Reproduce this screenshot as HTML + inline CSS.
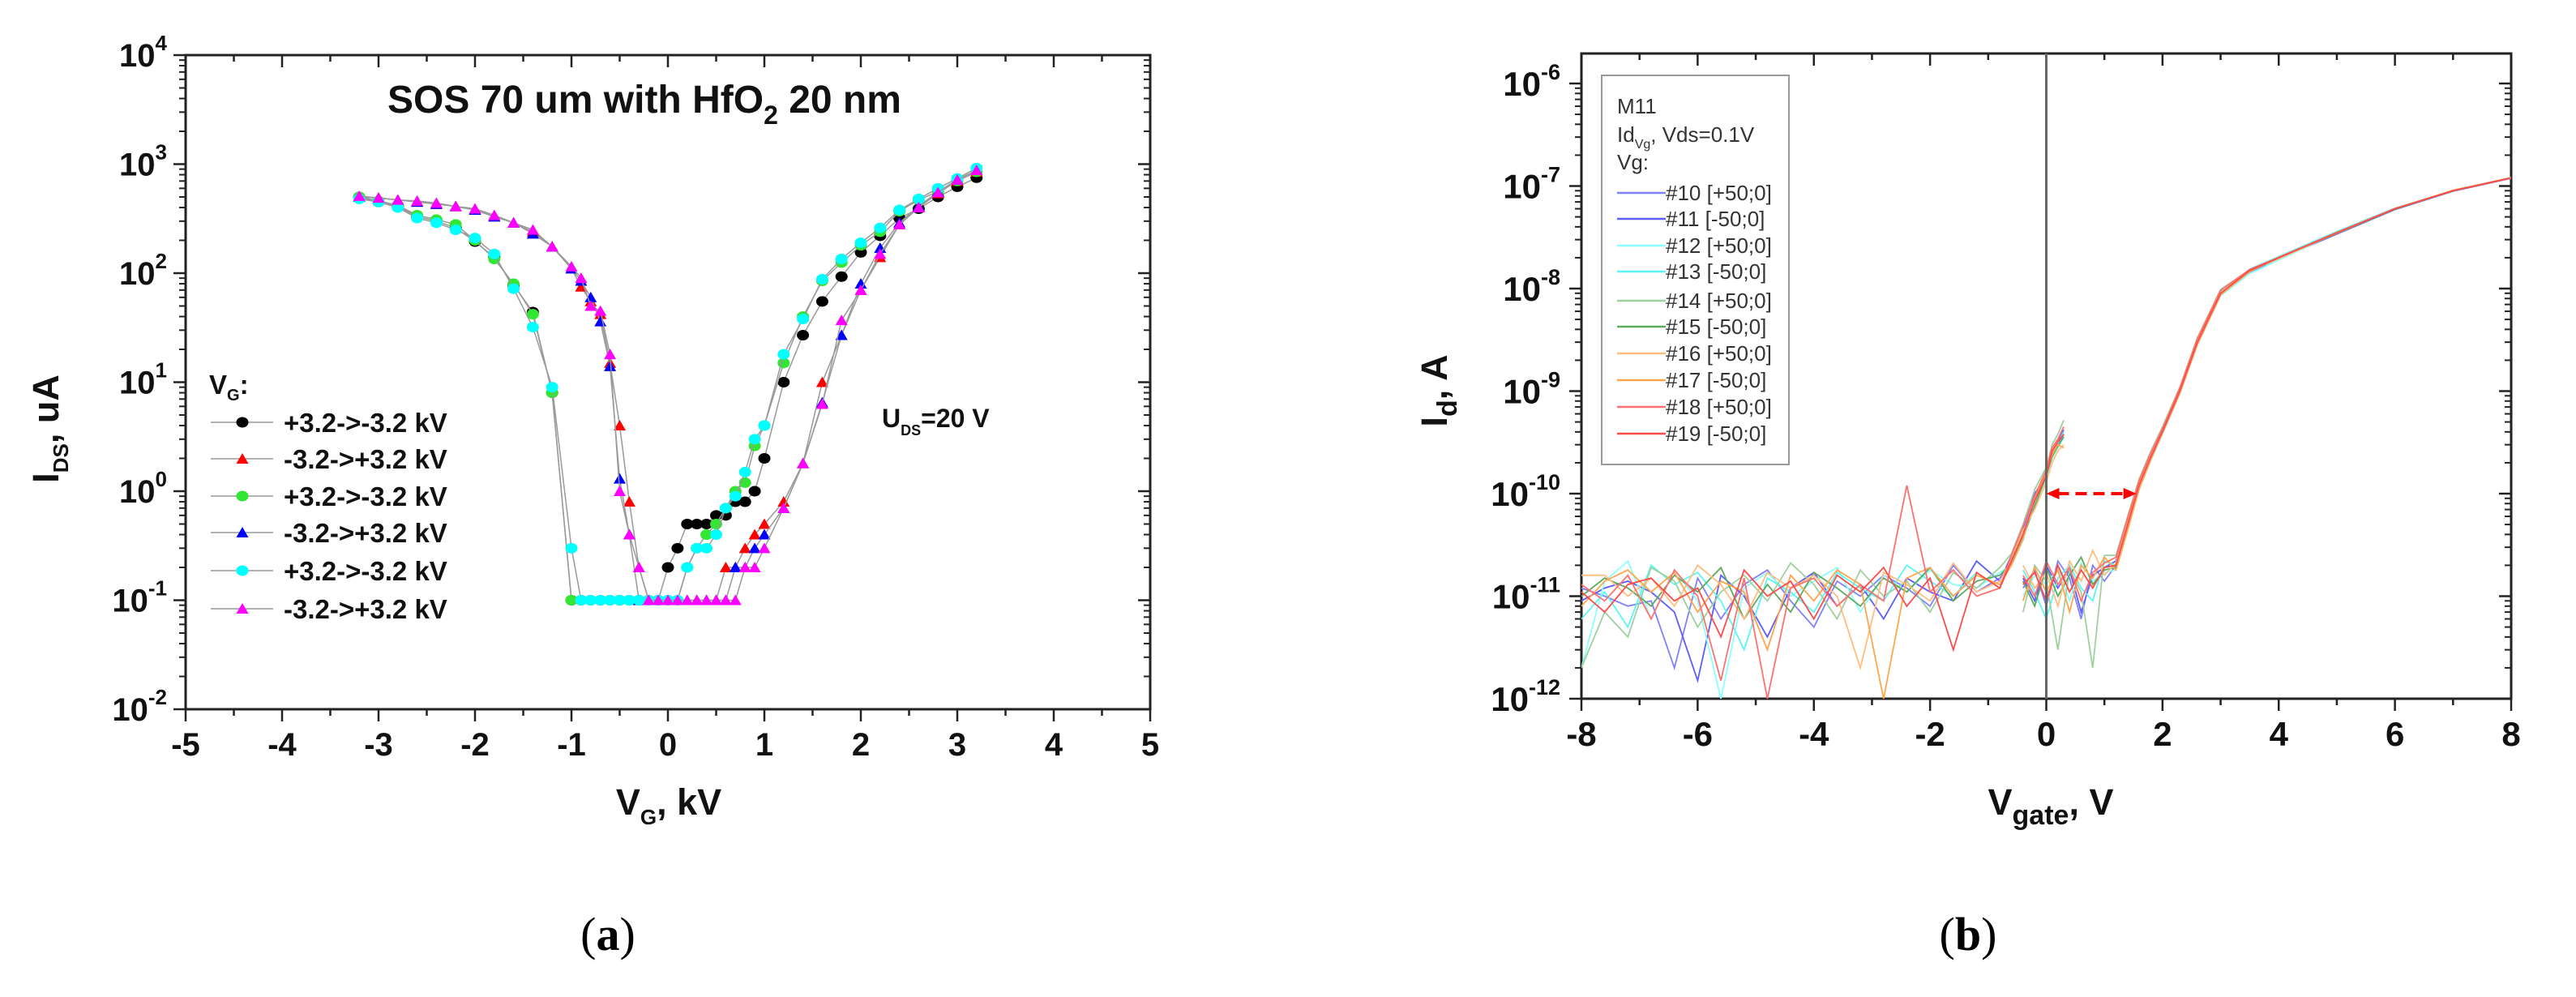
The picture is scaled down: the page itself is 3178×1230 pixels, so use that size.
<!DOCTYPE html>
<html><head><meta charset="utf-8"><style>
html,body{margin:0;padding:0;background:#fff;}
svg{display:block;font-family:"Liberation Sans",Arial,sans-serif;}
</style></head><body>
<svg id="fig" width="3178" height="1230" viewBox="0 0 3178 1230" xmlns="http://www.w3.org/2000/svg">
<rect x="0" y="0" width="3178" height="1230" fill="#fff"/>
<g id="pa"></g>
<g id="pb"></g>
<text x="750" y="1172" font-family="Liberation Serif, serif" font-size="58" text-anchor="middle">(<tspan font-weight="bold">a</tspan>)</text>
<text x="2428" y="1172" font-family="Liberation Serif, serif" font-size="58" text-anchor="middle">(<tspan font-weight="bold">b</tspan>)</text>
</svg>
<script>
// ---------- Chart A data ----------
const aX = [-3.2,-3.0,-2.8,-2.6,-2.4,-2.2,-2.0,-1.8,-1.6,-1.4,-1.2,-1.0,-0.9,-0.8,-0.7,-0.6,-0.5,-0.4,-0.3,-0.2,-0.1,0,0.1,0.2,0.3,0.4,0.5,0.6,0.7,0.8,0.9,1.0,1.2,1.4,1.6,1.8,2.0,2.2,2.4,2.6,2.8,3.0,3.2];
const aBlack = [500,450,410,330,300,260,195,140,78,44,8,0.1,0.1,0.1,0.1,0.1,0.1,0.1,0.1,0.1,0.1,0.2,0.3,0.5,0.5,0.5,0.6,0.6,0.8,0.8,1.0,2.0,10,27,55,93,155,220,320,390,500,620,750];
const aGreen = [500,460,420,340,310,280,200,135,80,42,8,0.1,0.1,0.1,0.1,0.1,0.1,0.1,0.1,0.1,0.1,0.1,0.1,0.2,0.3,0.4,0.5,0.7,1.0,1.2,2.6,4.0,15,40,85,125,180,240,370,470,560,700,850];
const aCyan = [480,450,400,320,290,250,210,150,72,32,9,0.3,0.1,0.1,0.1,0.1,0.1,0.1,0.1,0.1,0.1,0.1,0.1,0.2,0.3,0.3,0.4,0.7,0.9,1.5,3.0,4.0,18,38,88,135,190,260,380,480,600,740,920];
const aRed = [500,490,470,450,430,410,380,330,290,240,175,110,75,55,42,15,4,0.8,0.2,0.1,0.1,0.1,0.1,0.1,0.1,0.1,0.1,0.2,0.2,0.3,0.4,0.5,0.8,1.8,10,27,70,140,280,400,540,700,850];
const aBlue = [500,490,470,450,430,410,380,330,290,230,175,110,85,60,36,14,1.3,0.4,0.1,0.1,0.1,0.1,0.1,0.1,0.1,0.1,0.1,0.1,0.2,0.2,0.3,0.4,0.7,1.8,6.5,27,80,170,290,410,560,720,880];
const aMag = [510,490,470,460,440,410,390,340,290,250,175,115,90,50,45,18,1.0,0.4,0.2,0.1,0.1,0.1,0.1,0.1,0.1,0.1,0.1,0.1,0.1,0.2,0.2,0.3,0.7,1.8,6.3,37,70,150,280,400,550,720,880];
const aXTicks = [-5,-4,-3,-2,-1,0,1,2,3,4,5];
const aYExp = [-2,-1,0,1,2,3,4];
const aLegend = ["+3.2->-3.2 kV","-3.2->+3.2 kV","+3.2->-3.2 kV","-3.2->+3.2 kV","+3.2->-3.2 kV","-3.2->+3.2 kV"];

// ---------- Chart B data (currents in pA) ----------
const bNoiseX = [-8,-7.6,-7.2,-6.8,-6.4,-6,-5.6,-5.2,-4.8,-4.4,-4,-3.6,-3.2,-2.8,-2.4,-2,-1.6,-1.2,-0.8];
const bHystX = [-0.6,-0.4,-0.2,0,0.1,0.2,0.3];
const bFloorX = [-0.4,-0.2,0,0.2,0.4,0.6,0.8,1.0];
const bRiseX = [1.2,1.4,1.6,1.8,2.0,2.3,2.6,3.0,3.5,4,5,6,7,8];
const bNames = ["#10 [+50;0]","#11 [-50;0]","#12 [+50;0]","#13 [-50;0]","#14 [+50;0]","#15 [-50;0]","#16 [+50;0]","#17 [-50;0]","#18 [+50;0]","#19 [-50;0]"];
const bNoise = [
 [12,10,8,9,2,15,6,13,18,9,5,14,10,16,12,8,20,11,15],
 [9,12,14,11,7,1.5,16,10,4,12,17,8,13,6,15,11,9,22,14],
 [2,14,22,6,18,9,1,12,17,10,14,19,7,16,11,18,13,12,17],
 [6,11,5,20,13,17,9,3,15,11,7,17,12,9,20,14,10,17,12],
 [2,7,4,19,14,5,11,16,9,21,13,6,18,10,14,7,17,12,19],
 [10,15,12,8,16,11,19,6,13,7,17,12,8,15,11,19,9,14,16],
 [16,16,10,15,8,20,13,6,17,12,16,10,2,17,13,9,21,11,14],
 [8,14,18,11,17,7,14,11,3,16,9,18,13,1,15,19,10,16,13],
 [13,9,16,6,18,10,1.5,15,1,12,15,8,13,9,120,11,18,10,12],
 [11,7,13,15,9,12,4,18,10,14,6,16,11,19,8,15,3,17,12]];
const bHyst = [
 [22,40,90,160,260,300,380],[25,45,100,150,240,320,420],[20,35,80,140,220,280,350],[24,42,85,170,250,310,400],
 [26,50,110,180,300,380,520],[21,38,75,150,230,290,360],[23,44,70,130,200,260,300],[20,36,90,160,240,300,280],
 [25,48,95,170,280,340,450],[22,40,85,150,260,320,380]];
const bFloor = [
 [12,18,8,22,15,6,20,14],[15,9,20,12,18,7,16,19],[10,16,13,19,9,21,14,17],[18,11,6,15,20,12,9,22],
 [7,20,14,3,18,11,2,25],[14,8,19,10,16,24,13,18],[20,12,17,8,22,14,28,16],[9,19,11,18,7,20,15,24],
 [16,10,22,13,19,9,17,21],[13,17,9,20,11,18,12,19]];
const bRise = [
 [20,55,130,240,420,1050,3200,9500,15000,20000,35000,60000,90000,120000],
 [22,50,120,220,400,1000,3000,9000,14500,19500,34000,59000,89000,119000],
 [18,45,110,210,380,950,2800,8500,14000,19000,35000,60000,91000,121000],
 [20,48,115,230,410,980,3100,9200,15500,20500,36000,61000,90000,120000],
 [25,60,140,260,450,1100,3300,9800,15200,20000,35500,60000,90500,121000],
 [19,47,118,225,400,1000,2900,8800,14800,19800,34500,59500,89500,120000],
 [21,52,125,235,415,1020,3050,9100,15000,19500,35000,60500,90000,119500],
 [18,44,112,215,390,960,2850,8700,14600,20200,34800,60200,91000,120500],
 [24,58,135,250,430,1080,3250,9600,15300,20100,35200,60100,90200,120000],
 [20,50,122,228,405,1010,3000,9000,15000,20000,35000,60000,90000,120000]];
const bColors = ["#8080ff","#5c5cff","#8affff","#5cf5f5","#9fd09f","#5eaa5e","#ffbe80","#ffa64d","#ff7070","#ff4a4a"];
const bXTicks = [-8,-6,-4,-2,0,2,4,6,8];
const bYExp = [-12,-11,-10,-9,-8,-7,-6];
const bArrowY = 100; // pA
const bArrowX = [0, 1.55];

const NS = "http://www.w3.org/2000/svg";
function mk(parent, tag, attrs){const e=document.createElementNS(NS,tag);for(const k in attrs)e.setAttribute(k,attrs[k]);parent.appendChild(e);return e;}

// ===== Chart A =====
const A = {l:229,r:1419,t:68,b:875};
const xa = v => A.l + (v+5)/10*(A.r-A.l);
const ya = v => A.t + (4-Math.log10(v))/6*(A.b-A.t);
const ga = document.getElementById('pa');
(function(){
  const frame = mk(ga,'rect',{x:A.l,y:A.t,width:A.r-A.l,height:A.b-A.t,fill:'none',stroke:'#222','stroke-width':3});
  
  
  for(let v=-5; v<=5.001; v+=0.5){
    const maj = Math.abs(v-Math.round(v))<1e-6; const L = maj?15:8; const x=xa(v);
    mk(ga,'line',{x1:x,y1:A.b,x2:x,y2:A.b+L,stroke:'#222','stroke-width':2.5});
    mk(ga,'line',{x1:x,y1:A.t,x2:x,y2:A.t+L,stroke:'#222','stroke-width':2.5});
  }
  aXTicks.forEach(v=>{
    const t = mk(ga,'text',{x:xa(v),y:932,'font-size':40,'font-weight':'bold','text-anchor':'middle',fill:'#111'});
    t.textContent = String(v);
    
    
  });
  aYExp.forEach((e,i)=>{
    const y = ya(Math.pow(10,e));
    mk(ga,'line',{x1:A.l-15,y1:y,x2:A.l,y2:y,stroke:'#222','stroke-width':2.5});
    mk(ga,'line',{x1:A.r-15,y1:y,x2:A.r,y2:y,stroke:'#222','stroke-width':2.5});
    if(i<aYExp.length-1){ for(let m=2;m<=9;m++){ const ym=ya(m*Math.pow(10,e));
      mk(ga,'line',{x1:A.l-8,y1:ym,x2:A.l,y2:ym,stroke:'#222','stroke-width':2});
      mk(ga,'line',{x1:A.r-8,y1:ym,x2:A.r,y2:ym,stroke:'#222','stroke-width':2}); } }
    const t = mk(ga,'text',{x:206,y:y+14,'font-size':40,'font-weight':'bold','text-anchor':'end',fill:'#111'});
    t.innerHTML = '10<tspan font-size="26" dy="-20">'+e+'</tspan>';
    
    
  });
  const series = [
    {y:aBlack,c:'#000',m:'c'},{y:aRed,c:'#ff0000',m:'t'},{y:aGreen,c:'#33e633',m:'c'},
    {y:aBlue,c:'#0000ff',m:'t'},{y:aCyan,c:'#00ffff',m:'c'},{y:aMag,c:'#ff00ff',m:'t'}];
  series.forEach((s,si)=>{
    const g = mk(ga,'g',{});
    
    
    const d = aX.map((x,i)=>(i?'L':'M')+xa(x).toFixed(1)+' '+ya(s.y[i]).toFixed(1)).join(' ');
    mk(g,'path',{d:d,fill:'none',stroke:'#999','stroke-width':1.5});
    aX.forEach((x,i)=>{
      const px=xa(x), py=ya(s.y[i]);
      if(s.m==='c') mk(g,'ellipse',{cx:px,cy:py,rx:7.5,ry:6.5,fill:s.c});
      else mk(g,'polygon',{points:`${px},${py-7} ${px-7.5},${py+6} ${px+7.5},${py+6}`,fill:s.c});
    });
  });
  // legend
  const lg = mk(ga,'g',{});
  
  
  const vt = mk(lg,'text',{x:258,y:486,'font-size':33,'font-weight':'bold',fill:'#111'});
  vt.innerHTML='V<tspan font-size="20" dy="8">G</tspan><tspan dy="-8">:</tspan>';
  const ly=[521,566,612,657,704,751];
  series.forEach((s,i)=>{
    const e = mk(lg,'g',{});
    
    
    mk(e,'line',{x1:260,y1:ly[i],x2:337,y2:ly[i],stroke:'#999','stroke-width':1.5});
    const px=299, py=ly[i];
    if(s.m==='c') mk(e,'ellipse',{cx:px,cy:py,rx:7.5,ry:6.5,fill:s.c});
    else mk(e,'polygon',{points:`${px},${py-7} ${px-7.5},${py+6} ${px+7.5},${py+6}`,fill:s.c});
    const t = mk(e,'text',{x:350,y:py+12,'font-size':33,'font-weight':'bold',fill:'#111'});
    t.textContent = aLegend[i];
  });
  const title = mk(ga,'text',{x:478,y:139,'font-size':48,'font-weight':'bold',fill:'#111'});
  title.innerHTML='SOS 70 um with HfO<tspan font-size="32" dy="14">2</tspan><tspan dy="-14"> 20 nm</tspan>';
  
  
  const uds = mk(ga,'text',{x:1088,y:527,'font-size':32,'font-weight':'bold',fill:'#111'});
  uds.innerHTML='U<tspan font-size="18" dy="10">DS</tspan><tspan dy="-10">=20 V</tspan>';
  
  
  const xt = mk(ga,'text',{x:825,y:1005,'font-size':45,'font-weight':'bold','text-anchor':'middle',fill:'#111'});
  xt.innerHTML='V<tspan font-size="26" dy="12">G</tspan><tspan dy="-12">, kV</tspan>';
  
  
  const yt = mk(ga,'text',{x:0,y:0,'font-size':45,'font-weight':'bold','text-anchor':'middle',fill:'#111',transform:'translate(72,529) rotate(-90)'});
  yt.innerHTML='I<tspan font-size="26" dy="12">DS</tspan><tspan dy="-12">, uA</tspan>';
  
  
})();

// ===== Chart B =====
const B = {l:1951,r:3098,t:66,b:862};
const xb = v => B.l + (v+8)/16*(B.r-B.l);
const yb = pA => 103 + (-6-Math.log10(pA*1e-12))*126.5;
const gb = document.getElementById('pb');
(function(){
  const clip = mk(gb,'clipPath',{id:'clipb'});
  mk(clip,'rect',{x:B.l,y:B.t,width:B.r-B.l,height:B.b-B.t});
  const frame = mk(gb,'rect',{x:B.l,y:B.t,width:B.r-B.l,height:B.b-B.t,fill:'none',stroke:'#222','stroke-width':3});
  
  
  for(let v=-8; v<=8.001; v+=1){
    const maj = Math.abs(v/2-Math.round(v/2))<1e-6; const L = maj?15:8; const x=xb(v);
    mk(gb,'line',{x1:x,y1:B.b,x2:x,y2:B.b+L,stroke:'#222','stroke-width':2.5});
    mk(gb,'line',{x1:x,y1:B.t,x2:x,y2:B.t+L,stroke:'#222','stroke-width':2.5});
  }
  bXTicks.forEach(v=>{
    const t = mk(gb,'text',{x:xb(v),y:920,'font-size':42,'font-weight':'bold','text-anchor':'middle',fill:'#111'});
    t.textContent = String(v);
    
    
  });
  bYExp.forEach((e,i)=>{
    const pA = Math.pow(10,e+12); const y = yb(pA);
    mk(gb,'line',{x1:B.l-15,y1:y,x2:B.l,y2:y,stroke:'#222','stroke-width':2.5});
    mk(gb,'line',{x1:B.r-15,y1:y,x2:B.r,y2:y,stroke:'#222','stroke-width':2.5});
    for(let m=2;m<=9;m++){ const ym=yb(m*pA); if(ym<B.t) continue;
      mk(gb,'line',{x1:B.l-8,y1:ym,x2:B.l,y2:ym,stroke:'#222','stroke-width':2});
      mk(gb,'line',{x1:B.r-8,y1:ym,x2:B.r,y2:ym,stroke:'#222','stroke-width':2}); }
    const t = mk(gb,'text',{x:1925,y:y+15,'font-size':42,'font-weight':'bold','text-anchor':'end',fill:'#111'});
    t.innerHTML = '10<tspan font-size="27" dy="-20">'+e+'</tspan>';
    
    
  });
  const data = mk(gb,'g',{'clip-path':'url(#clipb)'});
  bNames.forEach((n,i)=>{
    const g = mk(data,'g',{fill:'none',stroke:bColors[i],'stroke-width':1.8});
    
    
    const pa = bNoiseX.map((x,k)=>[x,bNoise[i][k]]).concat(bHystX.map((x,k)=>[x,bHyst[i][k]]));
    mk(g,'path',{d:pa.map((p,k)=>(k?'L':'M')+xb(p[0]).toFixed(1)+' '+yb(p[1]).toFixed(1)).join(' ')});
    const pb = bFloorX.map((x,k)=>[x,bFloor[i][k]]).concat(bRiseX.map((x,k)=>[x,bRise[i][k]]));
    mk(g,'path',{d:pb.map((p,k)=>(k?'L':'M')+xb(p[0]).toFixed(1)+' '+yb(p[1]).toFixed(1)).join(' ')});
  });
  const vl = mk(gb,'line',{x1:xb(0),y1:B.t,x2:xb(0),y2:B.b,stroke:'#666','stroke-width':3});
  
  
  const ag = mk(gb,'g',{});
  
  
  const ay = yb(bArrowY), ax1=xb(bArrowX[0]), ax2=xb(bArrowX[1]);
  mk(ag,'line',{x1:ax1+14,y1:ay,x2:ax2-14,y2:ay,stroke:'#ff0000','stroke-width':4,'stroke-dasharray':'14 8'});
  mk(ag,'polygon',{points:`${ax1},${ay} ${ax1+16},${ay-7} ${ax1+16},${ay+7}`,fill:'#ff0000'});
  mk(ag,'polygon',{points:`${ax2},${ay} ${ax2-16},${ay-7} ${ax2-16},${ay+7}`,fill:'#ff0000'});
  // legend
  const lg = mk(gb,'g',{});
  
  
  mk(lg,'rect',{x:1976,y:93,width:231,height:480,fill:'#fff',stroke:'#999','stroke-width':2});
  const t1 = mk(lg,'text',{x:1995,y:140,'font-size':26,fill:'#333'}); t1.textContent='M11';
  const t2 = mk(lg,'text',{x:1995,y:175,'font-size':26,fill:'#333'});
  t2.innerHTML='Id<tspan font-size="16" dy="8">Vg</tspan><tspan dy="-8">, Vds=0.1V</tspan>';
  const t3 = mk(lg,'text',{x:1995,y:209,'font-size':26,fill:'#333'}); t3.textContent='Vg:';
  const ly=[238,270,303,335,371,403,436,469,502,535];
  bNames.forEach((n,i)=>{
    const e = mk(lg,'g',{});
    
    
    mk(e,'line',{x1:1995,y1:ly[i],x2:2055,y2:ly[i],stroke:bColors[i],'stroke-width':2.5});
    const t = mk(e,'text',{x:2055,y:ly[i]+9,'font-size':26,fill:'#333'}); t.textContent=n;
  });
  const xt = mk(gb,'text',{x:2530,y:1005,'font-size':45,'font-weight':'bold','text-anchor':'middle',fill:'#111'});
  xt.innerHTML='V<tspan font-size="34" dy="12">gate</tspan><tspan dy="-12">,  V</tspan>';
  
  
  const yt = mk(gb,'text',{x:0,y:0,'font-size':45,'font-weight':'bold','text-anchor':'middle',fill:'#111',transform:'translate(1785,482) rotate(-90)'});
  yt.innerHTML='I<tspan font-size="34" dy="12">d</tspan><tspan dy="-12">, A</tspan>';
  
  
})();
</script>
</body></html>
